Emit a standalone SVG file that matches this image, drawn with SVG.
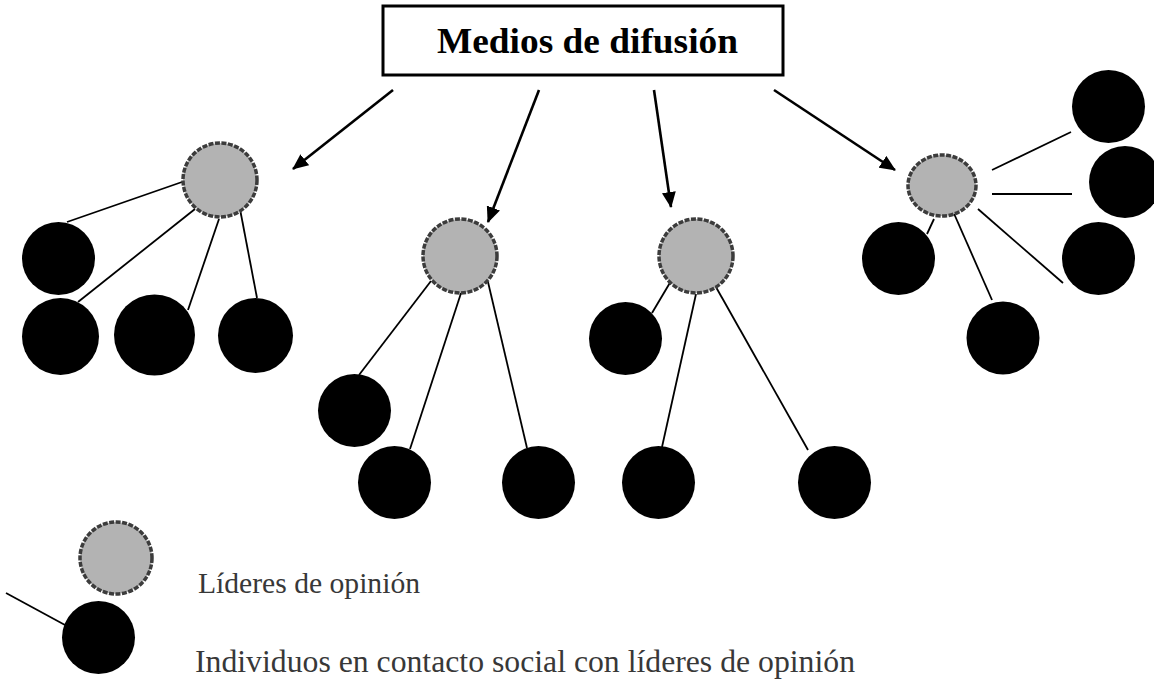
<svg xmlns="http://www.w3.org/2000/svg" width="1154" height="679" viewBox="0 0 1154 679">
<style>
.leader{fill:#b3b3b3;stroke:#3c3c3c;stroke-width:3.5;stroke-dasharray:5 1.5}
.ind{fill:#000}
.link{stroke:#000;stroke-width:1.8;fill:none}
.arrow{stroke:#000;stroke-width:2.6;fill:none;marker-end:url(#ah)}
.legend{font-family:"Liberation Serif","Times New Roman",serif;fill:#383838}
</style>
<defs>
<marker id="ah" markerUnits="userSpaceOnUse" markerWidth="16" markerHeight="14" refX="15" refY="7" orient="auto">
<path d="M0,0 L16,7 L0,14 z" fill="#000"/>
</marker>
</defs>
<rect width="1154" height="679" fill="#fff"/>

<g id="title">
<rect x="383" y="6" width="400" height="69" fill="#fff" stroke="#000" stroke-width="3"/>
<text x="587.5" y="53" text-anchor="middle" font-family="'Liberation Serif','Times New Roman',serif" font-weight="bold" font-size="36.5" textLength="301" lengthAdjust="spacingAndGlyphs">Medios de difusión</text>
</g>

<g id="connectors">
<line class="arrow" x1="393" y1="90" x2="293" y2="169"/>
<line class="arrow" x1="539" y1="90" x2="488" y2="222"/>
<line class="arrow" x1="654" y1="90" x2="671" y2="207"/>
<line class="arrow" x1="774" y1="90" x2="895" y2="170"/>
<line class="link" x1="182" y1="182" x2="67" y2="222"/>
<line class="link" x1="195" y1="209" x2="78" y2="302"/>
<line class="link" x1="219" y1="219" x2="188" y2="310"/>
<line class="link" x1="240" y1="209" x2="257" y2="298"/>
<line class="link" x1="431" y1="281" x2="359" y2="375"/>
<line class="link" x1="464" y1="284" x2="410" y2="449"/>
<line class="link" x1="488" y1="282" x2="527" y2="448"/>
<line class="link" x1="671" y1="281" x2="652" y2="313"/>
<line class="link" x1="696" y1="294" x2="662" y2="447"/>
<line class="link" x1="712" y1="280" x2="808" y2="450"/>
<line class="link" x1="992" y1="170" x2="1071" y2="132"/>
<line class="link" x1="992" y1="194" x2="1072" y2="194"/>
<line class="link" x1="978" y1="209" x2="1063" y2="283"/>
<line class="link" x1="952" y1="209" x2="992" y2="300"/>
<line class="link" x1="934" y1="219" x2="927" y2="234"/>
<line class="link" x1="6" y1="593" x2="65" y2="625"/>
</g>

<g id="group1">
<circle class="leader" cx="220" cy="180" r="37"/>
<circle class="ind" cx="58.5" cy="258.5" r="36.5"/>
<circle class="ind" cx="60.5" cy="336.5" r="38.5"/>
<circle class="ind" cx="154.5" cy="335" r="40.5"/>
<circle class="ind" cx="255.5" cy="335.5" r="37.5"/>
</g>

<g id="group2">
<circle class="leader" cx="460" cy="256" r="37"/>
<circle class="ind" cx="354.5" cy="410.5" r="36.5"/>
<circle class="ind" cx="394.5" cy="482.5" r="36.5"/>
<circle class="ind" cx="538.5" cy="482.5" r="36.5"/>
</g>

<g id="group3">
<circle class="leader" cx="696" cy="256" r="37"/>
<circle class="ind" cx="625.5" cy="338.5" r="36.5"/>
<circle class="ind" cx="658.5" cy="482.5" r="36.5"/>
<circle class="ind" cx="834.5" cy="482.5" r="36.5"/>
</g>

<g id="group4">
<ellipse class="leader" cx="942" cy="185.5" rx="34" ry="30.5"/>
<circle class="ind" cx="1108.5" cy="106.5" r="36.5"/>
<circle class="ind" cx="1125" cy="182" r="36"/>
<circle class="ind" cx="1098.5" cy="258.5" r="36.5"/>
<circle class="ind" cx="898.5" cy="258.5" r="36.5"/>
<circle class="ind" cx="1003" cy="338" r="36.5"/>
</g>

<g id="legend-leader">
<circle class="leader" cx="116" cy="558" r="36"/>
<text class="legend" x="198" y="593" font-size="30" textLength="222" lengthAdjust="spacingAndGlyphs">Líderes de opinión</text>
</g>

<g id="legend-individual">
<circle class="ind" cx="98.5" cy="637.5" r="36.5"/>
<text class="legend" x="195" y="672" font-size="31.5" textLength="660" lengthAdjust="spacingAndGlyphs">Individuos en contacto social con líderes de opinión</text>
</g>
</svg>
